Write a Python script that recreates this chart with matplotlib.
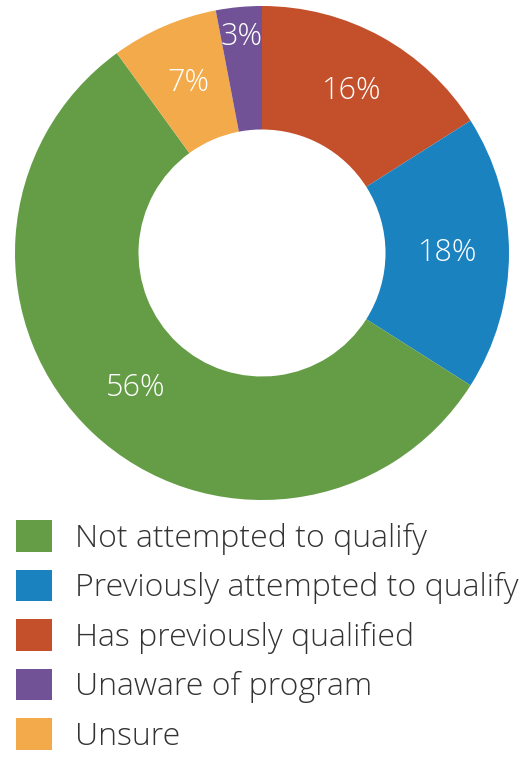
import numpy as np
import matplotlib.pyplot as plt

plt.rcParams['font.family'] = ['Open Sans', 'DejaVu Sans']

# clockwise from 12 o'clock
labels = ['Has previously qualified', 'Previously attempted to qualify',
          'Not attempted to qualify', 'Unsure', 'Unaware of program']
values = [16, 18, 56, 7, 3]
colors = ['#C4502B', '#1B82C0', '#659D47', '#F3AA4A', '#725296']
legend_order = [2, 1, 0, 4, 3]

W, H = 531, 759
fig = plt.figure(figsize=(W / 100, H / 100), dpi=100)
cx, cy, R = 262, 253, 247
ax = fig.add_axes([(cx - R) / W, (H - cy - R) / H, 2 * R / W, 2 * R / H])

wedges, _ = ax.pie(values, colors=colors, startangle=90, counterclock=False,
                   radius=1, wedgeprops=dict(width=0.5, linewidth=0))
ax.set_xlim(-1, 1)
ax.set_ylim(-1, 1)
ax.set_aspect('equal')
ax.axis('off')

for w, v in zip(wedges, values):
    mid = np.deg2rad((w.theta1 + w.theta2) / 2)
    r = 0.88 if v < 5 else 0.75
    ax.text(r * np.cos(mid), r * np.sin(mid), f'{v}%', color='white',
            fontsize=22, fontweight='light', ha='center', va='center')

leg = fig.legend([wedges[i] for i in legend_order], [labels[i] for i in legend_order],
                 loc='upper left', bbox_to_anchor=(10 / W, 1 - 514 / H),
                 frameon=False, fontsize=23, handlelength=1.13, handleheight=1.13,
                 handletextpad=0.72, labelspacing=0.47, borderaxespad=0, borderpad=0.2)
for t in leg.get_texts():
    t.set_color('#333333')
    t.set_fontweight('light')

fig.savefig('out.png', dpi=100)
